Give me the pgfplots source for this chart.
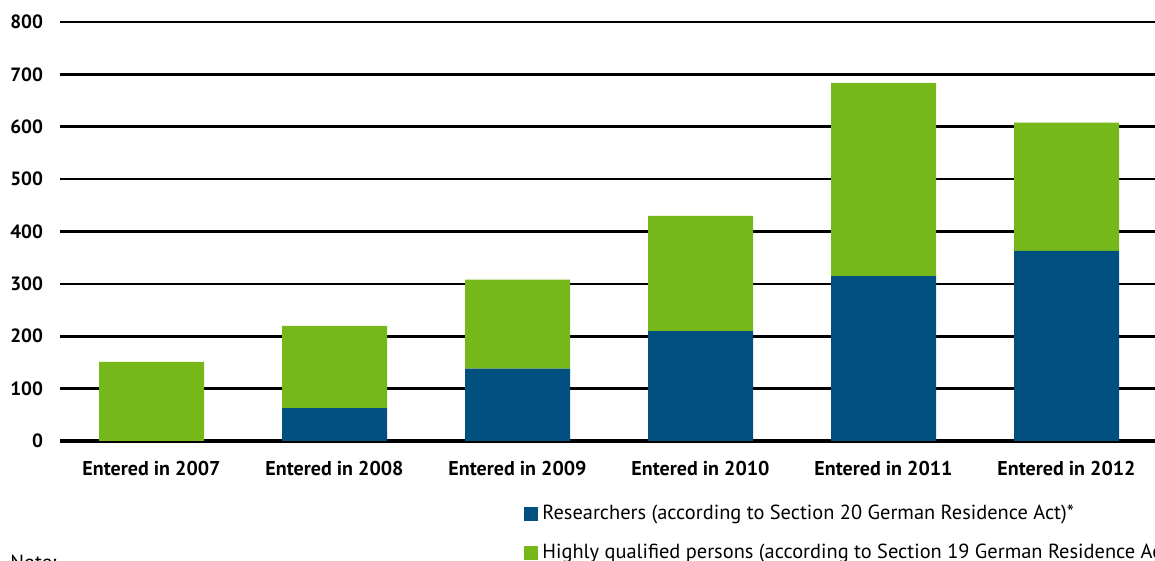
\documentclass[border=0pt]{standalone}
\usepackage{fontspec}
\setmainfont{PT Sans}
\usepackage{pgfplots}
\pgfplotsset{compat=1.18}
\definecolor{resblue}{RGB}{2,80,128}
\definecolor{hqgreen}{RGB}{118,184,26}
\begin{document}
\begin{tikzpicture}
\clip (0pt,0pt) rectangle (577.5pt,280.5pt);
\begin{axis}[
  at={(30pt,60pt)}, anchor=south west,
  width=549pt, height=209.5pt, scale only axis,
  xmin=-0.5, xmax=5.5, ymin=0, ymax=800,
  ybar stacked, bar width=52.5pt,
  xtick={0,1,2,3,4,5},
  xticklabels={Entered in 2007,Entered in 2008,Entered in 2009,Entered in 2010,Entered in 2011,Entered in 2012},
  ytick={0,100,...,800},
  ymajorgrids, grid style={black, line width=1.3pt},
  axis x line*=bottom, axis y line*=left,
  x axis line style={black, line width=2pt, -},
  y axis line style={draw=none},
  major tick length=0pt,
  /pgf/number format/assume math mode=true,
  yticklabel style={font=\bfseries\fontsize{9.6}{10}\selectfont, xshift=-5pt},
  xticklabel style={font=\bfseries\fontsize{10}{11}\selectfont, yshift=-6.5pt},
  legend style={at={(0.4226,-0.143)}, anchor=north west, draw=none, fill=none,
    font=\fontsize{10.2}{12}\selectfont, row sep=6.5pt, legend cell align=left,
    inner sep=0pt},
  legend image code/.code={\fill[#1] (0pt,-3.5pt) rectangle (7pt,3.5pt);},
]
\addplot[fill=resblue, draw=none] coordinates {(0,0) (1,63) (2,138) (3,210) (4,315) (5,363)};
\addplot[fill=hqgreen, draw=none] coordinates {(0,151) (1,157) (2,170) (3,220) (4,369) (5,245)};
\legend{Researchers (according to Section 20 German Residence Act)*, Highly qualified persons (according to Section 19 German Residence Act)}
\end{axis}
\node[anchor=north west, inner sep=0pt, font=\fontsize{10.2}{12}\selectfont] at (5pt,3pt) {Note:};
\end{tikzpicture}
\end{document}
